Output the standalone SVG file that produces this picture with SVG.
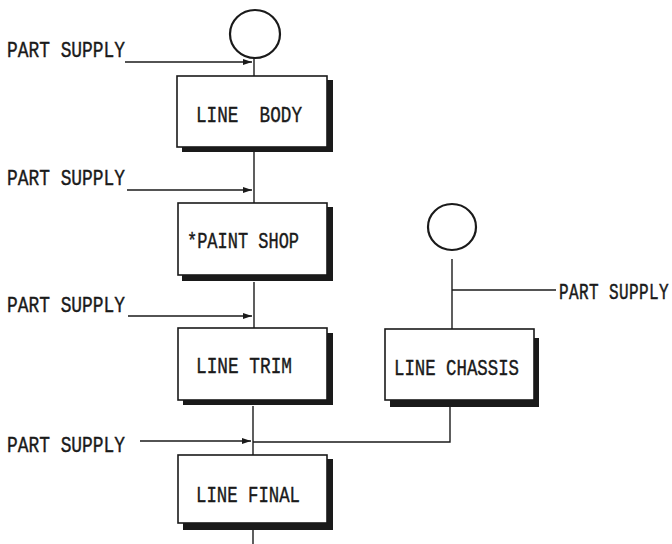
<svg xmlns="http://www.w3.org/2000/svg" width="672" height="544" viewBox="0 0 672 544">
<style>
.t{font-family:"Liberation Mono","DejaVu Sans Mono",monospace;font-size:22px;fill:#1a1a1a;stroke:#1a1a1a;stroke-width:0.4}
.ts{font-family:"Liberation Mono","DejaVu Sans Mono",monospace;font-size:16px;letter-spacing:0.4px;fill:#1a1a1a;stroke:#1a1a1a;stroke-width:0.35}
.ln{stroke:#1a1a1a;stroke-width:1.4;fill:none}
.box{fill:#fff;stroke:#1a1a1a;stroke-width:1.6}
.sh{fill:#1a1a1a}
.circ{fill:#fff;stroke:#1a1a1a;stroke-width:2.2}
</style>
<defs>
<marker id="ar" markerWidth="10" markerHeight="8" refX="9" refY="4" orient="auto" markerUnits="userSpaceOnUse">
<path d="M0,1 L9,4 L0,7 Z" fill="#1a1a1a"/>
</marker>
</defs>
<rect width="672" height="544" fill="#fff"/>
<g id="connectors">
<line class="ln" x1="254" y1="58" x2="254" y2="76"/>
<line class="ln" x1="254" y1="152" x2="254" y2="203"/>
<line class="ln" x1="254" y1="282" x2="254" y2="328"/>
<line class="ln" x1="253" y1="406" x2="253" y2="455"/>
<line class="ln" x1="253" y1="530" x2="253" y2="544"/>
<line class="ln" x1="125" y1="62" x2="252" y2="62" marker-end="url(#ar)"/>
<line class="ln" x1="127" y1="190" x2="252" y2="190" marker-end="url(#ar)"/>
<line class="ln" x1="128" y1="316" x2="252" y2="316" marker-end="url(#ar)"/>
<line class="ln" x1="140" y1="441" x2="251" y2="441" marker-end="url(#ar)"/>
<polyline class="ln" points="450,407 450,442 253,442"/>
<line class="ln" x1="452" y1="259" x2="452" y2="329"/>
<line class="ln" x1="452" y1="290" x2="556" y2="290"/>
</g>
<g id="start-body"><ellipse class="circ" cx="255" cy="34" rx="25" ry="24"/></g>
<g id="start-chassis"><ellipse class="circ" cx="452" cy="227" rx="24" ry="23"/></g>
<g id="line-body">
<rect class="sh" x="182" y="80" width="151" height="72"/>
<rect class="box" x="177" y="76" width="150" height="71"/>
<text class="t" x="196" y="122" xml:space="preserve" textLength="106" lengthAdjust="spacingAndGlyphs">LINE  BODY</text>
</g>
<g id="paint-shop">
<rect class="sh" x="182" y="207" width="151" height="74"/>
<rect class="box" x="178" y="203" width="149" height="72"/>
<text class="t" x="187" y="248" textLength="112" lengthAdjust="spacingAndGlyphs">*PAINT SHOP</text>
</g>
<g id="line-trim">
<rect class="sh" x="183" y="333" width="150" height="72"/>
<rect class="box" x="178" y="328" width="149" height="72"/>
<text class="t" x="196" y="373" textLength="96" lengthAdjust="spacingAndGlyphs">LINE TRIM</text>
</g>
<g id="line-chassis">
<rect class="sh" x="390" y="338" width="149" height="69"/>
<rect class="box" x="385" y="329" width="149" height="71"/>
<text class="t" x="394" y="375" textLength="125" lengthAdjust="spacingAndGlyphs">LINE CHASSIS</text>
</g>
<g id="line-final">
<rect class="sh" x="183" y="459" width="150" height="71"/>
<rect class="box" x="178" y="455" width="149" height="68"/>
<text class="t" x="196" y="502" textLength="104" lengthAdjust="spacingAndGlyphs">LINE FINAL</text>
</g>
<g id="labels">
<text class="t" x="7" y="57" textLength="118" lengthAdjust="spacingAndGlyphs">PART SUPPLY</text>
<text class="t" x="7" y="185" textLength="118" lengthAdjust="spacingAndGlyphs">PART SUPPLY</text>
<text class="t" x="7" y="312" textLength="118" lengthAdjust="spacingAndGlyphs">PART SUPPLY</text>
<text class="t" x="7" y="452" textLength="118" lengthAdjust="spacingAndGlyphs">PART SUPPLY</text>
<text class="ts" transform="translate(559,299) scale(1,1.38)">PART SUPPLY</text>
</g>
</svg>
